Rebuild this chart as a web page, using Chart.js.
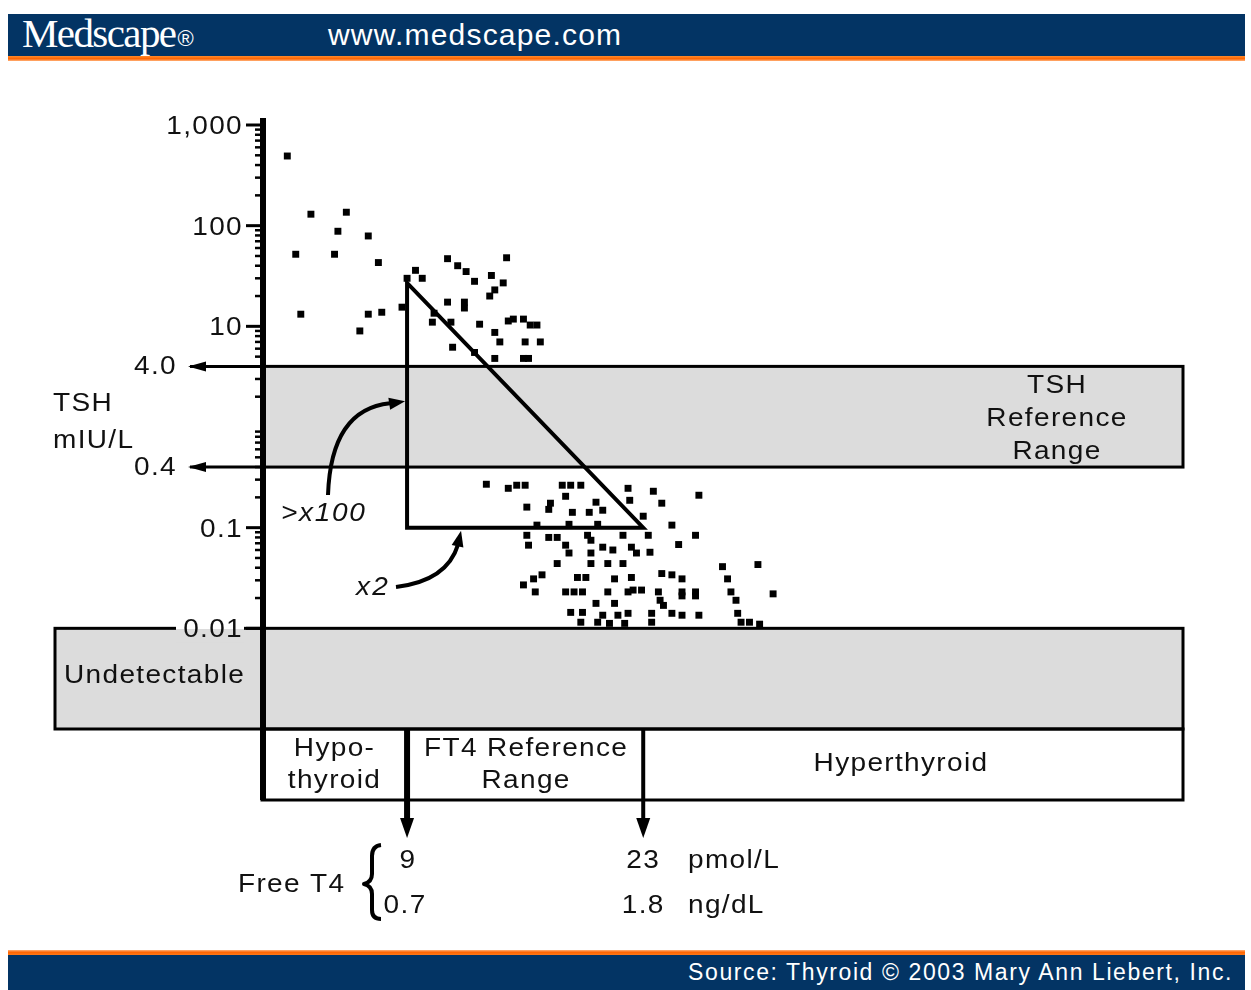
<!DOCTYPE html>
<html>
<head>
<meta charset="utf-8">
<script src="https://cdn.jsdelivr.net/npm/chart.js@4.4.1/dist/chart.umd.min.js"></script>
<style>
html,body{margin:0;padding:0;background:#fff;width:1251px;height:990px;overflow:hidden;font-family:"Liberation Sans",Arial,sans-serif;}
#hdr{position:absolute;left:8px;top:14px;width:1237px;height:42px;background:#033464;}
#hdrline{position:absolute;left:8px;top:56px;width:1237px;height:5px;background:linear-gradient(#ff8a2a,#ff6400 55%,#ffb27a);}
#logo{position:absolute;left:14px;top:-2px;color:#fff;font-family:"Liberation Serif","Times New Roman",serif;font-size:41px;letter-spacing:-1.6px;line-height:42px;}
#logo sup{font-size:22px;font-family:"Liberation Sans",Arial,sans-serif;letter-spacing:0;vertical-align:1px;margin-left:2px;}
#url{position:absolute;left:320px;top:0;color:#fff;font-size:30px;line-height:42px;letter-spacing:1.2px;}
#ftrline{position:absolute;left:8px;top:950px;width:1237px;height:5px;background:linear-gradient(#ffb27a,#ff6400 45%,#ff7a1a);}
#ftr{position:absolute;left:8px;top:955px;width:1237px;height:35px;background:#033464;}
#src{position:absolute;right:12px;top:0;color:#fff;font-size:23px;line-height:34px;letter-spacing:1.6px;}
#c{position:absolute;left:0;top:0;}
</style>
</head>
<body>
<div id="hdr"><span id="logo">Medscape<sup>®</sup></span><span id="url">www.medscape.com</span></div>
<div id="hdrline"></div>
<canvas id="c" width="1251" height="990"></canvas>
<div id="ftrline"></div>
<div id="ftr"><span id="src">Source: Thyroid © 2003 Mary Ann Liebert, Inc.</span></div>
<script>
// ---- Data ----
// Free T4 (pmol/L) and TSH (mIU/L) for each patient point
const FT4_HIGH_TSH = [1.9,3.3,5.4,4.9,6.7,2.4,4.7,7.3,2.7,6.7,7.5,6.2,8.7,9.5,9.0,9.9,11.4,12.0,12.5,13.0,14.9,14.0,14.7,14.2,13.9,11.4,12.4,12.4,10.6,10.5,11.6,13.3,14.2,14.5,15.0,15.3,15.9,16.3,16.7,16.0,16.9,11.7,13.0,14.2,15.9,16.2];
const TSH_HIGH_TSH = [492,130,136,88,79,52,52,43,13.2,13.2,13.8,9.0,15.5,36,30,30,47,40,35,28,48,32,27,23,20,17.4,17.4,15.2,13.5,11.0,11.0,10.5,8.7,7.0,11.3,11.8,11.8,10.3,10.3,7.0,7.0,6.2,5.5,4.8,4.8,4.8];
const FT4_LOW_A = [13.7,15.0,15.5,16.0,18.2,18.7,19.3,18.4,16.1,17.5,17.4,18.8,19.8,20.2,20.6,16.7,18.6,20.3,16.1,16.2,17.4,17.9,19.7,19.9,18.4,18.6,19.9,20.6,21.2,17.9,19.9,20.9,21.8,17.0,16.5,15.9,19.1,19.6,21.3,16.6,18.4,19.4,20.9,22.1,20.2,21.3,18.7,19.4,20.6,21.5,19.3,20.3,18.9,21.0,21.9];
const TSH_LOW_A = [0.270,0.246,0.264,0.264,0.264,0.264,0.264,0.205,0.160,0.175,0.152,0.142,0.142,0.179,0.149,0.106,0.108,0.108,0.084,0.067,0.080,0.080,0.084,0.075,0.067,0.056,0.056,0.064,0.060,0.044,0.044,0.044,0.044,0.034,0.031,0.027,0.032,0.032,0.031,0.023,0.023,0.023,0.023,0.023,0.0177,0.0177,0.0144,0.0144,0.0135,0.0135,0.0115,0.0115,0.023,0.0112,0.0112];
const FT4_LOW_B = [22.1,23.6,26.3,22.2,24.1,23.0,24.7,26.1,23.3,21.8,25.1,22.3,22.6,23.4,27.7,29.8,24.1,24.7,25.3,22.3,28.0,22.4,22.9,23.9,25.3,26.1,28.2,30.7,24.0,24.2,28.5,22.1,23.5,24.7,25.3,26.3,28.6,23.5,28.8,29.3,29.9,25.3,26.1];
const TSH_LOW_B = [0.246,0.230,0.210,0.187,0.175,0.130,0.106,0.084,0.084,0.084,0.068,0.064,0.056,0.057,0.041,0.043,0.035,0.034,0.031,0.032,0.031,0.024,0.024,0.023,0.023,0.023,0.023,0.022,0.019,0.0169,0.019,0.0141,0.0141,0.0141,0.0135,0.0135,0.0141,0.0115,0.0115,0.0115,0.011,0.021,0.021];

// Axis ticks
const TICK_VALUES = [1000, 100, 10, 4, 0.4, 0.1, 0.01];
const TICK_LABELS = ["1,000", "100", "10", "4.0", "0.4", "0.1", "0.01"];
// Ranges
const TSH_REF = [0.4, 4.0];          // mIU/L
const UNDETECT = [0.001, 0.01];      // below detection
const FT4_REF = [9, 23];             // pmol/L
const FT4_REF_LABELS = ["9", "23"];
const FT4_REF_NGDL = ["0.7", "1.8"];
const TRIANGLE_TSH = [27, 0.1];      // apex / base of the ">x100 / x2" triangle
const ARROW_TSH = 1.8;               // where the ">x100" arrow meets the triangle
const ARROW_FT4 = 12.2;              // where the "x2" arrow meets the triangle

const points = [];
[[FT4_HIGH_TSH,TSH_HIGH_TSH],[FT4_LOW_A,TSH_LOW_A],[FT4_LOW_B,TSH_LOW_B]].forEach(([xs,ys]) => {
  xs.forEach((v,i) => points.push({x:v, y:ys[i]}));
});

const FONT = '"Liberation Sans", Arial, Helvetica, sans-serif';
const SX = 1.12; // horizontal stretch of the original lettering
function txt(ctx, s, x, y, o) {
  o = o || {};
  ctx.save();
  ctx.translate(x, y);
  ctx.scale(SX, 1);
  ctx.font = (o.style || '') + ' ' + (o.size || 25) + 'px ' + FONT;
  ctx.fillStyle = o.color || '#111';
  ctx.textAlign = o.align || 'left';
  ctx.textBaseline = 'middle';
  try { ctx.letterSpacing = (o.ls === undefined ? 1.2 : o.ls) + 'px'; } catch (e) {}
  ctx.fillText(s, 0, 0);
  ctx.restore();
}
function head(ctx, tx, ty, ang, len, hw) {
  ctx.save(); ctx.translate(tx, ty); ctx.rotate(ang);
  ctx.beginPath(); ctx.moveTo(0, 0); ctx.lineTo(-len, -hw); ctx.lineTo(-len, hw); ctx.closePath();
  ctx.fillStyle = '#000'; ctx.fill(); ctx.restore();
}
function line(ctx, x1, y1, x2, y2, w) {
  ctx.save(); ctx.lineWidth = w; ctx.strokeStyle = '#000'; ctx.lineCap = 'butt';
  ctx.beginPath(); ctx.moveTo(x1, y1); ctx.lineTo(x2, y2); ctx.stroke(); ctx.restore();
}

const deco = {
  id: 'deco',
  beforeDatasetsDraw(chart) {
    const {ctx, chartArea: a, scales: {x, y}} = chart;
    const L = a.left, R = a.right;
    const y4 = y.getPixelForValue(TSH_REF[1]), y04 = y.getPixelForValue(TSH_REF[0]);
    const yU1 = y.getPixelForValue(UNDETECT[1]), yU0 = y.getPixelForValue(UNDETECT[0]);
    const UL = L - 207;
    ctx.save();
    ctx.fillStyle = '#dcdcdc';
    ctx.fillRect(L, y4, R - L, y04 - y4);
    ctx.fillRect(UL, yU1, R - UL, yU0 - yU1);
    ctx.strokeStyle = '#000'; ctx.lineWidth = 3;
    ctx.strokeRect(L, y4, R - L, y04 - y4);
    ctx.strokeRect(UL, yU1, R - UL, yU0 - yU1);
    const bb = yU0 + 71;
    ctx.strokeRect(L, yU0, R - L, bb - yU0);
    ctx.restore();
    [y4, y04].forEach(yy => { line(ctx, 190, yy, L, yy, 3); head(ctx, 188, yy, Math.PI, 18, 5); });
  },
  afterDatasetsDraw(chart) {
    const {ctx, chartArea: a, scales: {x, y}} = chart;
    const L = a.left, R = a.right;
    const y4 = y.getPixelForValue(TSH_REF[1]), y04 = y.getPixelForValue(TSH_REF[0]);
    const yU1 = y.getPixelForValue(UNDETECT[1]), yU0 = y.getPixelForValue(UNDETECT[0]);
    const bb = yU0 + 71;
    const x9 = x.getPixelForValue(FT4_REF[0]), x23 = x.getPixelForValue(FT4_REF[1]);

    // triangle
    const yT = y.getPixelForValue(TRIANGLE_TSH[0]), yB = y.getPixelForValue(TRIANGLE_TSH[1]);
    ctx.save();
    ctx.lineWidth = 4; ctx.strokeStyle = '#000'; ctx.lineJoin = 'miter';
    ctx.beginPath(); ctx.moveTo(x9, yT); ctx.lineTo(x9, yB); ctx.lineTo(x23, yB); ctx.closePath(); ctx.stroke();
    ctx.restore();

    // y axis
    line(ctx, L + 1, a.top - 7, L + 1, bb, 6);
    for (let e = -2; e <= 2; e++) {
      for (let m = 2; m <= 9; m++) {
        const yy = y.getPixelForValue(m * Math.pow(10, e));
        line(ctx, L - 7, yy, L, yy, 2.5);
      }
    }
    TICK_VALUES.forEach((v, i) => {
      const yy = y.getPixelForValue(v);
      const lab = TICK_LABELS[i];
      if (lab === '4.0' || lab === '0.4') {
        txt(ctx, lab, 177, yy + 1, {align: 'right'});
      } else {
        if (lab === '0.01') {
          ctx.save(); ctx.fillStyle = '#dcdcdc'; ctx.fillRect(176, yy + 2, 68, 12);
          ctx.fillStyle = '#fff'; ctx.fillRect(176, yy - 13, 68, 14.5); ctx.restore();
        }
        line(ctx, L - 16, yy, L, yy, 3);
        txt(ctx, lab, 243, yy + 2, {align: 'right'});
      }
    });

    txt(ctx, 'TSH', 53, 404);
    txt(ctx, 'mIU/L', 53, 441);
    const cy = (y4 + y04) / 2;
    txt(ctx, 'TSH', 1057, cy - 31, {align: 'center'});
    txt(ctx, 'Reference', 1057, cy + 2, {align: 'center'});
    txt(ctx, 'Range', 1057, cy + 35, {align: 'center'});
    txt(ctx, 'Undetectable', 64, (yU1 + yU0) / 2 - 3);

    // ">x100" curved arrow
    const yTip = y.getPixelForValue(ARROW_TSH);
    ctx.save(); ctx.lineWidth = 4; ctx.strokeStyle = '#000';
    ctx.beginPath(); ctx.moveTo(328, 495); ctx.quadraticCurveTo(331, yTip + 8, 390, yTip + 2); ctx.stroke();
    ctx.restore();
    head(ctx, x9 - 2, yTip, -0.15, 16, 6);
    txt(ctx, '>x100', 281, 514, {style: 'italic', ls: 1.5});

    // "x2" curved arrow
    const xTip = x.getPixelForValue(ARROW_FT4);
    ctx.save(); ctx.lineWidth = 4; ctx.strokeStyle = '#000';
    ctx.beginPath(); ctx.moveTo(396, 587); ctx.quadraticCurveTo(447, 581, xTip - 3, yB + 17); ctx.stroke();
    ctx.restore();
    head(ctx, xTip, yB + 3, -1.35, 16, 6);
    txt(ctx, 'x2', 356, 588, {style: 'italic', ls: 2});

    // bottom box dividers and arrows
    line(ctx, x9, yU0, x9, bb + 20, 6);
    line(ctx, x23, yU0, x23, bb + 20, 4);
    head(ctx, x9, bb + 38, Math.PI / 2, 20, 7);
    head(ctx, x23, bb + 38, Math.PI / 2, 20, 7);
    txt(ctx, 'Hypo-', (L + x9) / 2, yU0 + 20, {align: 'center'});
    txt(ctx, 'thyroid', (L + x9) / 2, yU0 + 52, {align: 'center'});
    txt(ctx, 'FT4 Reference', (x9 + x23) / 2 + 1, yU0 + 20, {align: 'center'});
    txt(ctx, 'Range', (x9 + x23) / 2 + 1, yU0 + 52, {align: 'center'});
    txt(ctx, 'Hyperthyroid', 901, yU0 + 35, {align: 'center'});

    // Free T4 legend
    txt(ctx, 'Free T4', 238, 885);
    ctx.save(); ctx.lineWidth = 4; ctx.strokeStyle = '#000'; ctx.lineJoin = 'round';
    ctx.beginPath();
    ctx.moveTo(381, 845); ctx.quadraticCurveTo(372, 846, 372, 856);
    ctx.lineTo(372, 874); ctx.quadraticCurveTo(372, 882, 364, 884);
    ctx.quadraticCurveTo(372, 886, 372, 894);
    ctx.lineTo(372, 910); ctx.quadraticCurveTo(372, 919, 381, 919);
    ctx.stroke(); ctx.restore();
    txt(ctx, FT4_REF_LABELS[0], x9 + 1, 861, {align: 'center'});
    txt(ctx, FT4_REF_NGDL[0], x9 - 2, 906, {align: 'center'});
    txt(ctx, FT4_REF_LABELS[1], x23, 861, {align: 'center'});
    txt(ctx, FT4_REF_NGDL[1], x23, 906, {align: 'center'});
    txt(ctx, 'pmol/L', 688, 861);
    txt(ctx, 'ng/dL', 688, 906);
  }
};

new Chart(document.getElementById('c'), {
  type: 'scatter',
  data: {
    datasets: [{
      data: points,
      pointStyle: 'rect',
      pointRadius: 4.9,
      pointHoverRadius: 4.9,
      backgroundColor: '#000',
      borderColor: '#000',
      borderWidth: 0
    }]
  },
  options: {
    responsive: false,
    animation: false,
    events: [],
    layout: {padding: {left: 262, right: 68, top: 125, bottom: 261}},
    plugins: {legend: {display: false}, tooltip: {enabled: false}},
    scales: {
      x: {type: 'linear', min: 0.4, max: 55, display: false},
      y: {type: 'logarithmic', min: 0.001, max: 1000, display: false}
    }
  },
  plugins: [deco]
});
</script>
</body>
</html>
